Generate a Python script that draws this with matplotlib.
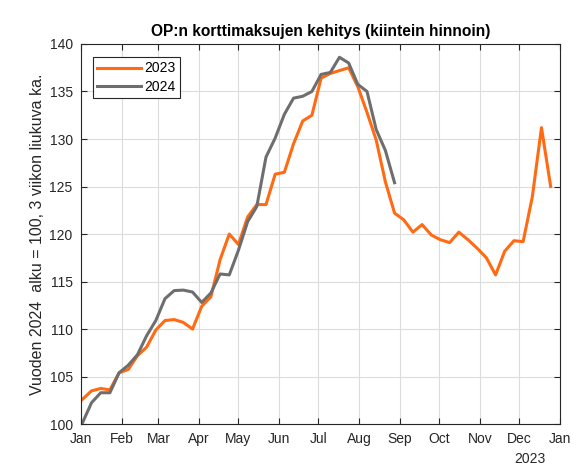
import numpy as np
import matplotlib.pyplot as plt

plt.rcParams['font.family'] = ['Liberation Sans', 'DejaVu Sans']

# weekly index values, 3 week moving avg, start of year = 100
weeks = np.arange('2023-01-02', '2023-12-26', 7, dtype='datetime64[D]')

vals_2023 = [102.6, 103.5, 103.75, 103.6, 105.4, 105.75, 107.2, 108.1, 109.9, 110.9,
             111.0, 110.7, 110.0, 112.4, 113.4, 117.3, 120.0, 118.9, 121.8, 123.1,
             123.1, 126.3, 126.5, 129.5, 131.9, 132.5, 136.4, 136.9, 137.2, 137.5,
             135.5, 132.8, 129.9, 125.5, 122.2, 121.5, 120.2, 121.0, 119.9, 119.4,
             119.1, 120.2, 119.4, 118.5, 117.5, 115.7, 118.2, 119.3, 119.2, 123.9,
             131.2, 125.0]

vals_2024 = [100.1, 102.25, 103.3, 103.3, 105.4, 106.2, 107.3, 109.3, 110.9, 113.2,
             114.05, 114.1, 113.9, 112.8, 113.8, 115.8, 115.7, 118.3, 121.3, 122.9,
             128.1, 130.1, 132.6, 134.3, 134.5, 135.0, 136.8, 137.0, 138.6, 138.0,
             135.75, 135.0, 131.0, 128.8, 125.4]

month_labels = ['Jan', 'Feb', 'Mar', 'Apr', 'May', 'Jun', 'Jul',
                'Aug', 'Sep', 'Oct', 'Nov', 'Dec', 'Jan']
month_ticks = np.arange('2023-01', '2024-02', dtype='datetime64[M]').astype('datetime64[D]')

fig = plt.figure(figsize=(5.85, 4.76), dpi=100)
ax = fig.add_axes([0.1385, 0.109, 0.8185, 0.7986])

ax.plot(weeks, vals_2023, color='#FF6A13', lw=2.2, label='2023')
ax.plot(weeks[:len(vals_2024)], vals_2024, color='#6E6E6E', lw=2.2, label='2024')

ax.set_xlim(month_ticks[0], month_ticks[-1])
ax.set_ylim(100, 140)
ax.set_xticks(month_ticks)
ax.set_xticklabels(month_labels)
ax.set_yticks(np.arange(100, 141, 5))

ax.grid(True, color='#dcdcdc', lw=0.8)
ax.set_axisbelow(True)
ax.tick_params(direction='in', top=True, right=True, length=4, labelsize=10,
               colors='#262626', pad=6)
for s in ax.spines.values():
    s.set_color('#262626')
    s.set_linewidth(0.8)

ax.set_title('OP:n korttimaksujen kehitys (kiintein hinnoin)', fontsize=11.2,
             fontweight='bold', pad=6)
ax.set_ylabel('Vuoden 2024  alku = 100, 3 viikon liukuva ka.', fontsize=11.5,
              color='#262626', labelpad=3)
ax.text(0.937, -0.074, '2023', transform=ax.transAxes, ha='center', va='top',
        fontsize=10, color='#262626')

leg = ax.legend(loc='upper left', bbox_to_anchor=(0.0257, 0.965), borderaxespad=0,
                fontsize=10, fancybox=False, edgecolor='#262626', framealpha=1,
                handlelength=3.1, handletextpad=0.3, borderpad=0.3, labelspacing=0.3)
leg.get_frame().set_linewidth(0.8)

fig.savefig('out.png', dpi=100)
